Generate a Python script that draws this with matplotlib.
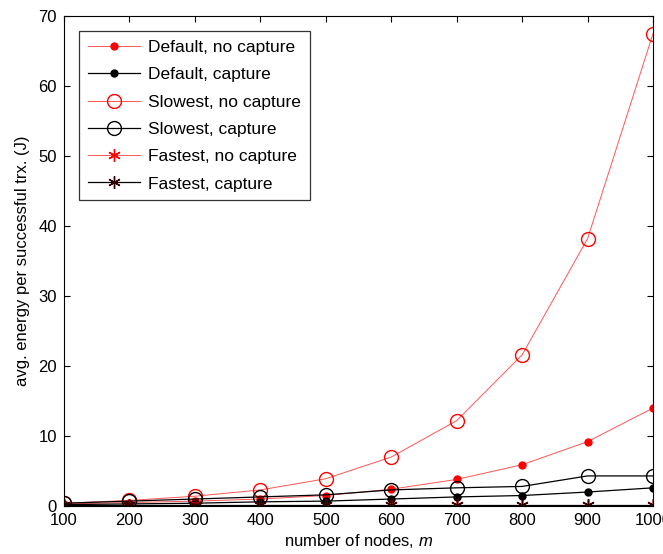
import matplotlib
matplotlib.use("Agg")
import matplotlib.pyplot as plt

plt.rcParams['font.family'] = ['Liberation Sans', 'DejaVu Sans']
plt.rcParams['mathtext.fontset'] = 'custom'
plt.rcParams['mathtext.it'] = 'Liberation Sans:italic'

nodes = [100, 200, 300, 400, 500, 600, 700, 800, 900, 1000]
default_nocap = [0.3, 0.5, 0.7, 1.0, 1.5, 2.4, 3.8, 5.9, 9.2, 14.0]
default_cap = [0.2, 0.3, 0.4, 0.6, 0.7, 1.0, 1.3, 1.5, 2.0, 2.6]
slowest_nocap = [0.4, 0.8, 1.4, 2.3, 3.9, 7.0, 12.2, 21.6, 38.2, 67.5]
slowest_cap = [0.4, 0.7, 1.0, 1.3, 1.6, 2.3, 2.6, 2.8, 4.3, 4.3]
fastest_nocap = [0.1, 0.1, 0.1, 0.1, 0.1, 0.1, 0.1, 0.1, 0.1, 0.1]
fastest_cap = [0.1, 0.1, 0.1, 0.1, 0.1, 0.1, 0.1, 0.1, 0.1, 0.1]

fig = plt.figure(figsize=(6.63, 5.54), dpi=100)
ax = fig.add_axes([0.0965, 0.0866, 0.8885, 0.8845])

red = dict(color='#ff5555', lw=0.7)
blk = dict(color='black', lw=0.9)
star = (6, 2, 0)
ax.plot(nodes, default_nocap, marker='o', ms=5, mfc='red', mec='red', label='Default, no capture', **red)
ax.plot(nodes, default_cap, marker='o', ms=5, mfc='black', mec='black', label='Default, capture', **blk)
ax.plot(nodes, slowest_nocap, marker='o', ms=10, mfc='none', mec='red', label='Slowest, no capture', **red)
ax.plot(nodes, slowest_cap, marker='o', ms=10, mfc='none', mec='black', label='Slowest, capture', **blk)
ax.plot(nodes, fastest_nocap, marker=star, ms=9, mfc='none', mec='red', label='Fastest, no capture', **red)
ax.plot(nodes, fastest_cap, marker=star, ms=9, mfc='none', mec='#330000', label='Fastest, capture', **blk)

ax.set_xlim(100, 1000)
ax.set_ylim(0, 70)
ax.set_xticks(nodes)
ax.set_yticks(range(0, 71, 10))
ax.tick_params(direction='in', top=True, right=True, labelsize=12, length=4, pad=5)
ax.set_xlabel('number of nodes, $m$', fontsize=12, labelpad=3)
ax.set_ylabel('avg. energy per successful trx. (J)', fontsize=12, labelpad=6)

leg = ax.legend(loc='upper left', bbox_to_anchor=(0.0255, 0.969), borderaxespad=0,
                fontsize=12.5, frameon=True, fancybox=False, edgecolor='black',
                handlelength=3.0, borderpad=0.5, labelspacing=0.7, handletextpad=0.5)
leg.get_frame().set_linewidth(0.9)

fig.savefig('out.png', dpi=100)
